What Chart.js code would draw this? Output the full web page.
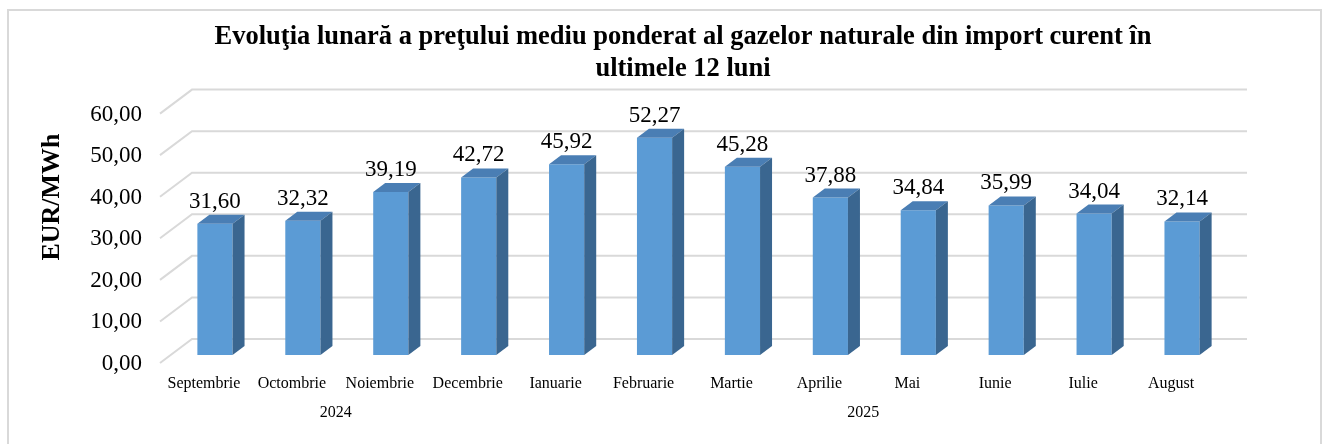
<!DOCTYPE html>
<html>
<head>
<meta charset="utf-8">
<script src="https://cdn.jsdelivr.net/npm/chart.js@4/dist/chart.umd.min.js"></script>
<style>
  html, body { margin: 0; padding: 0; background: #fff; }
  #frame {
    position: absolute; left: 7px; top: 9px; width: 1311px; height: 450px;
    border: 2px solid #d9d9d9;
  }
  #chart { position: absolute; left: 0; top: 0; }
</style>
</head>
<body>
<div id="frame"></div>
<canvas id="chart" width="1325" height="444"></canvas>
<script>
const months = ['Septembrie', 'Octombrie', 'Noiembrie', 'Decembrie', 'Ianuarie', 'Februarie',
                'Martie', 'Aprilie', 'Mai', 'Iunie', 'Iulie', 'August']
const years = ['2024', '2025']
const yearSpans = [4, 8] // how many months under each year
const prices = [31.60, 32.32, 39.19, 42.72, 45.92, 52.27, 45.28, 37.88, 34.84, 35.99, 34.04, 32.14]
const yMin = 0
const yMax = 60
const yStep = 10

const SERIF = '"Liberation Serif", "Times New Roman", serif'
const fmt = v => v.toFixed(2).replace('.', ',')

// fake 3D: depth of the bars and of the back wall
const BAR_DX = 12, BAR_DY = 9
const WALL_DX = 21, WALL_DY = 16   // back wall vs bar face
const FRONT_DX = 11, FRONT_DY = 8  // front floor edge vs bar face

const wallPlugin = {
    id: 'wall',
    beforeDatasetsDraw(chart) {
        const { ctx, chartArea, scales: { y } } = chart
        ctx.save()
        ctx.strokeStyle = '#d9d9d9'
        ctx.lineWidth = 2
        y.ticks.forEach(t => {
            const yf = y.getPixelForValue(t.value)
            ctx.beginPath()
            ctx.moveTo(chartArea.left - FRONT_DX, yf + FRONT_DY)
            ctx.lineTo(chartArea.left + WALL_DX, yf - WALL_DY)
            ctx.lineTo(chartArea.right + WALL_DX, yf - WALL_DY)
            ctx.stroke()
        })
        ctx.restore()
    }
}

const bars3dPlugin = {
    id: 'bars3d',
    afterDatasetsDraw(chart) {
        const { ctx } = chart
        const meta = chart.getDatasetMeta(0)
        ctx.save()
        meta.data.forEach((bar, i) => {
            const { x, y, base, width } = bar.getProps(['x', 'y', 'base', 'width'], true)
            const l = x - width / 2, r = x + width / 2
            // top
            ctx.fillStyle = '#4a7eb4'
            ctx.beginPath()
            ctx.moveTo(l, y)
            ctx.lineTo(l + BAR_DX, y - BAR_DY)
            ctx.lineTo(r + BAR_DX, y - BAR_DY)
            ctx.lineTo(r, y)
            ctx.closePath()
            ctx.fill()
            // side
            ctx.fillStyle = '#3a6690'
            ctx.beginPath()
            ctx.moveTo(r, y)
            ctx.lineTo(r + BAR_DX, y - BAR_DY)
            ctx.lineTo(r + BAR_DX, base - BAR_DY)
            ctx.lineTo(r, base)
            ctx.closePath()
            ctx.fill()
            // value label
            ctx.fillStyle = '#000'
            ctx.font = '23px ' + SERIF
            ctx.textAlign = 'center'
            ctx.textBaseline = 'alphabetic'
            ctx.fillText(fmt(prices[i]), x, y - 16)
        })
        ctx.restore()
    }
}

const extraTextPlugin = {
    id: 'extraText',
    afterDraw(chart) {
        const { ctx, scales: { x } } = chart
        ctx.save()
        ctx.fillStyle = '#000'
        // year row under the months
        ctx.font = '16px ' + SERIF
        ctx.textAlign = 'center'
        ctx.textBaseline = 'alphabetic'
        let start = 0
        years.forEach((yr, k) => {
            const end = start + yearSpans[k] - 1
            const cx = (x.getPixelForValue(start) + x.getPixelForValue(end)) / 2 - FRONT_DX
            ctx.fillText(yr, cx, 417)
            start = end + 1
        })
        // y axis title
        ctx.font = 'bold 26px ' + SERIF
        ctx.translate(52, 197)
        ctx.rotate(-Math.PI / 2)
        ctx.textBaseline = 'middle'
        ctx.fillText('EUR/MWh', 0, 0)
        ctx.restore()
    }
}

new Chart(document.getElementById('chart'), {
    type: 'bar',
    data: {
        labels: months,
        datasets: [{
            data: prices,
            backgroundColor: '#5b9bd5',
            borderWidth: 0,
            barPercentage: 0.4,
            categoryPercentage: 1.0
        }]
    },
    options: {
        responsive: false,
        animation: false,
        layout: { padding: { left: 41, right: 0, top: 0, bottom: 0 } },
        plugins: {
            legend: { display: false },
            tooltip: { enabled: false },
            title: {
                display: true,
                text: ['Evoluţia lunară a preţului mediu ponderat al gazelor naturale din import curent în',
                       'ultimele 12 luni'],
                color: '#000',
                font: { family: SERIF, size: 26.5, weight: 'bold', lineHeight: 1.2 },
                padding: { top: 21, bottom: 21 }
            }
        },
        scales: {
            x: {
                grid: { display: false, drawTicks: false },
                border: { display: false },
                ticks: {
                    color: '#000',
                    font: { family: SERIF, size: 16 },
                    padding: 19,
                    labelOffset: -FRONT_DX,
                    autoSkip: false,
                    maxRotation: 0
                },
                afterFit: s => { s.height = 89 }
            },
            y: {
                min: yMin,
                max: yMax,
                grid: { display: false, drawTicks: false },
                border: { display: false },
                ticks: {
                    stepSize: yStep,
                    color: '#000',
                    font: { family: SERIF, size: 23 },
                    padding: 29,
                    labelOffset: 9,
                    callback: v => fmt(v)
                },
                afterFit: s => { s.width = 130 }
            },
            // empty axis on the right, only keeps the plot clear of the frame
            yRight: {
                position: 'right',
                display: true,
                grid: { display: false },
                border: { display: false },
                ticks: { display: false },
                afterFit: s => { s.width = 99 }
            }
        }
    },
    plugins: [wallPlugin, bars3dPlugin, extraTextPlugin]
})
</script>
</body>
</html>
